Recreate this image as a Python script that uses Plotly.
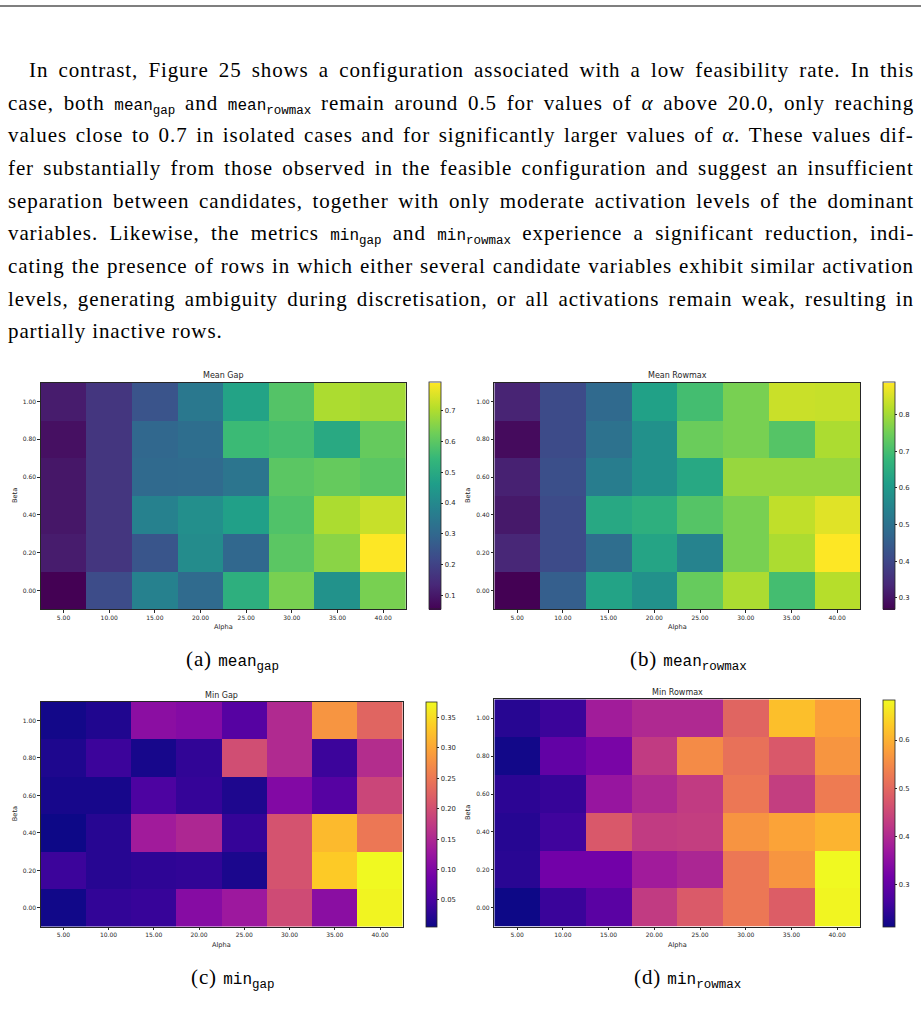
import glob, struct
import plotly.graph_objects as go

W, H = 921, 1022

# ---------------- data ----------------
alpha = [5, 10, 15, 20, 25, 30, 35, 40]
alpha_labels = ["5.00", "10.00", "15.00", "20.00", "25.00", "30.00", "35.00", "40.00"]
beta = [0.0, 0.2, 0.4, 0.6, 0.8, 1.0]
beta_labels = ["0.00", "0.20", "0.40", "0.60", "0.80", "1.00"]

# rows: beta 0.00 -> 1.00, columns: alpha 5 -> 40
mean_gap = [
    [0.054, 0.225, 0.38, 0.31, 0.52, 0.64, 0.43, 0.64],
    [0.11, 0.17, 0.25, 0.41, 0.30, 0.60, 0.66, 0.792],
    [0.10, 0.17, 0.38, 0.42, 0.47, 0.585, 0.70, 0.73],
    [0.10, 0.17, 0.305, 0.31, 0.34, 0.60, 0.615, 0.60],
    [0.085, 0.17, 0.30, 0.32, 0.555, 0.57, 0.50, 0.615],
    [0.11, 0.17, 0.246, 0.35, 0.48, 0.59, 0.70, 0.69],
]
mean_rowmax = [
    [0.268, 0.455, 0.625, 0.58, 0.74, 0.81, 0.70, 0.82],
    [0.335, 0.41, 0.49, 0.63, 0.545, 0.76, 0.81, 0.888],
    [0.31, 0.41, 0.64, 0.66, 0.72, 0.76, 0.83, 0.86],
    [0.325, 0.42, 0.53, 0.58, 0.64, 0.79, 0.79, 0.79],
    [0.285, 0.41, 0.50, 0.58, 0.745, 0.76, 0.72, 0.81],
    [0.33, 0.41, 0.48, 0.62, 0.70, 0.76, 0.838, 0.835],
]
min_gap = [
    [0.009, 0.033, 0.036, 0.108, 0.13, 0.196, 0.112, 0.372],
    [0.04, 0.025, 0.03, 0.032, 0.016, 0.206, 0.335, 0.376],
    [0.006, 0.025, 0.135, 0.15, 0.035, 0.206, 0.32, 0.25],
    [0.013, 0.013, 0.054, 0.035, 0.018, 0.104, 0.062, 0.19],
    [0.018, 0.04, 0.013, 0.032, 0.20, 0.154, 0.04, 0.158],
    [0.01, 0.02, 0.113, 0.106, 0.062, 0.154, 0.283, 0.228],
]
min_rowmax = [
    [0.214, 0.255, 0.29, 0.43, 0.48, 0.524, 0.485, 0.68],
    [0.24, 0.318, 0.318, 0.378, 0.395, 0.524, 0.566, 0.684],
    [0.237, 0.261, 0.477, 0.43, 0.435, 0.565, 0.585, 0.605],
    [0.242, 0.252, 0.365, 0.40, 0.43, 0.524, 0.435, 0.53],
    [0.219, 0.30, 0.327, 0.43, 0.552, 0.515, 0.477, 0.566],
    [0.238, 0.256, 0.379, 0.40, 0.40, 0.496, 0.618, 0.58],
]

titles = ["Mean Gap", "Mean Rowmax", "Min Gap", "Min Rowmax"]
cbar_ticks = [
    [0.1, 0.2, 0.3, 0.4, 0.5, 0.6, 0.7],
    [0.3, 0.4, 0.5, 0.6, 0.7, 0.8],
    [0.05, 0.10, 0.15, 0.20, 0.25, 0.30, 0.35],
    [0.3, 0.4, 0.5, 0.6],
]
cbar_labels = [
    ["0.1", "0.2", "0.3", "0.4", "0.5", "0.6", "0.7"],
    ["0.3", "0.4", "0.5", "0.6", "0.7", "0.8"],
    ["0.05", "0.10", "0.15", "0.20", "0.25", "0.30", "0.35"],
    ["0.3", "0.4", "0.5", "0.6"],
]
captions = [("a", "mean", "gap"), ("b", "mean", "rowmax"), ("c", "min", "gap"), ("d", "min", "rowmax")]

# ---------------- layout helpers ----------------
def X(px):
    return px / W

def Y(py):
    return 1 - py / H

SERIF = "Liberation Serif"
MONO = "Liberation Mono"
SANS = "DejaVu Sans"
FS = 21.0      # body text size
MS = 16.0      # mono size
SS = 12.5      # subscript size
LS = 0.9       # letter spacing for serif text (px)
INK = "#262626"

panels = [
    dict(box=(40.7, 406.0, 382.7, 609.3), cb=(429.0, 11.5), ty=375.0, bx=15.0, ay=627.0, cap=(232, 645)),
    dict(box=(494.3, 860.0, 382.7, 609.3), cb=(882.7, 11.5), ty=375.0, bx=468.0, ay=627.0, cap=(688, 645)),
    dict(box=(40.7, 402.7, 701.7, 926.7), cb=(425.7, 11.0), ty=695.0, bx=15.0, ay=945.0, cap=(233, 963)),
    dict(box=(494.3, 860.0, 699.3, 926.7), cb=(882.7, 11.5), ty=692.3, bx=468.0, ay=945.0, cap=(687, 963)),
]
datasets = [mean_gap, mean_rowmax, min_gap, min_rowmax]
scales = ["Viridis", "Viridis", "Plasma", "Plasma"]

fig = go.Figure()
annotations = []
layout_axes = {}

def mono(t, size):
    return f'<span style="font-family:{MONO};font-size:{size}px;letter-spacing:0px">{t}</span>'

def msub(t, size):
    # subscript drawn by shifting the baseline of its own span
    return (f'<span style="font-family:{MONO};font-size:{size}px;letter-spacing:0px;'
            f'baseline-shift:-4px">{t}</span>')

for i, (p, z, cs) in enumerate(zip(panels, datasets, scales)):
    n = i + 1
    x0, x1, y0, y1 = p["box"]
    flat = [v for row in z for v in row]
    zmin, zmax = min(flat), max(flat)
    cbx, cbw = p["cb"]
    fig.add_trace(go.Heatmap(
        x=alpha, y=beta, z=z, colorscale=cs, zmin=zmin, zmax=zmax,
        xaxis=f"x{n}", yaxis=f"y{n}", hoverinfo="skip",
        colorbar=dict(
            x=X(cbx), xanchor="left", y=Y((y0 + y1) / 2), yanchor="middle",
            len=y1 - y0, lenmode="pixels", thickness=cbw, thicknessmode="pixels",
            xpad=0, ypad=0, outlinewidth=0.8, outlinecolor=INK,
            ticks="outside", ticklen=2.5, tickwidth=0.8, tickcolor=INK,
            tickvals=cbar_ticks[i], ticktext=cbar_labels[i],
            tickfont=dict(family=SANS, size=6.8, color=INK),
        ),
    ))
    common = dict(showline=True, mirror=True, linecolor=INK, linewidth=0.9,
                  ticks="outside", ticklen=2.5, tickwidth=0.8, tickcolor=INK,
                  showgrid=False, zeroline=False, fixedrange=True,
                  tickfont=dict(family=SANS, size=6, color=INK))
    layout_axes[f"xaxis{n}"] = dict(domain=[X(x0), X(x1)], range=[2.5, 42.5], anchor=f"y{n}",
                                    tickvals=alpha, ticktext=alpha_labels, **common)
    layout_axes[f"yaxis{n}"] = dict(domain=[Y(y1), Y(y0)], range=[-0.1, 1.1], anchor=f"x{n}",
                                    tickvals=beta, ticktext=beta_labels, **common)
    annotations.append(dict(text=titles[i], x=X((x0 + x1) / 2), y=Y(p["ty"]), xref="paper", yref="paper",
                            showarrow=False, xanchor="center", yanchor="middle",
                            font=dict(family=SANS, size=8, color=INK)))
    annotations.append(dict(text="Alpha", x=X((x0 + x1) / 2), y=Y(p["ay"]), xref="paper", yref="paper",
                            showarrow=False, xanchor="center", yanchor="middle",
                            font=dict(family=SANS, size=6.6, color=INK)))
    annotations.append(dict(text="Beta", x=X(p["bx"]), y=Y((y0 + y1) / 2), xref="paper", yref="paper",
                            showarrow=False, xanchor="center", yanchor="middle", textangle=-90,
                            font=dict(family=SANS, size=6.6, color=INK)))
    letter, word, sub = captions[i]
    cap = f'<span style="letter-spacing:{LS}px">({letter}) {mono(word, MS)}{msub(sub, SS)}</span>'
    cx, cy = p["cap"]
    annotations.append(dict(text=cap, x=X(cx), y=Y(cy), xref="paper", yref="paper", showarrow=False,
                            xanchor="center", yanchor="top", font=dict(family=SERIF, size=FS, color="black")))

# ---------------- paragraph text ----------------
def find_font(name):
    for base in ["/usr/share/fonts", "/usr/local/share/fonts"]:
        hits = glob.glob(f"{base}/**/{name}", recursive=True)
        if hits:
            return hits[0]
    return None

def load_width_fn(path):
    data = open(path, "rb").read()
    num = struct.unpack(">H", data[4:6])[0]
    tables = {}
    for k in range(num):
        tag, _, off, ln = struct.unpack(">4sIII", data[12 + 16 * k:28 + 16 * k])
        tables[tag.decode("latin-1")] = off
    upem = struct.unpack(">H", data[tables["head"] + 18:tables["head"] + 20])[0]
    nhm = struct.unpack(">H", data[tables["hhea"] + 34:tables["hhea"] + 36])[0]
    hm = tables["hmtx"]
    adv = [struct.unpack(">H", data[hm + 4 * k:hm + 4 * k + 2])[0] for k in range(nhm)]
    cm = tables["cmap"]
    nsub = struct.unpack(">H", data[cm + 2:cm + 4])[0]
    sub = None
    for k in range(nsub):
        pid, eid, off = struct.unpack(">HHI", data[cm + 4 + 8 * k:cm + 12 + 8 * k])
        fmt = struct.unpack(">H", data[cm + off:cm + off + 2])[0]
        if fmt == 4 and pid == 3 and eid == 1:
            sub = cm + off
    segx2 = struct.unpack(">H", data[sub + 6:sub + 8])[0]
    segs = segx2 // 2
    ends = struct.unpack(f">{segs}H", data[sub + 14:sub + 14 + segx2])
    starts = struct.unpack(f">{segs}H", data[sub + 16 + segx2:sub + 16 + 2 * segx2])
    deltas = struct.unpack(f">{segs}h", data[sub + 16 + 2 * segx2:sub + 16 + 3 * segx2])
    rpos = sub + 16 + 3 * segx2
    roffs = struct.unpack(f">{segs}H", data[rpos:rpos + segx2])

    def gid(c):
        for k in range(segs):
            if starts[k] <= c <= ends[k]:
                if roffs[k] == 0:
                    return (c + deltas[k]) & 0xFFFF
                addr = rpos + 2 * k + roffs[k] + 2 * (c - starts[k])
                g = struct.unpack(">H", data[addr:addr + 2])[0]
                return (g + deltas[k]) & 0xFFFF if g else 0
        return 0

    def width(s, size):
        return sum(adv[min(gid(ord(ch)), nhm - 1)] for ch in s) / upem * size
    return width

try:
    serif_w = load_width_fn(find_font("LiberationSerif-Regular.ttf"))
except Exception:
    serif_w = lambda s, size: len(s) * 0.44 * size

def mono_w(s, size):
    return len(s) * 0.6 * size

lines = [
    [("S", "In contrast, Figure 25 shows a configuration associated with a low feasibility rate. In this")],
    [("S", "case, both "), ("T", "mean"), ("B", "gap"), ("S", " and "), ("T", "mean"), ("B", "rowmax"),
     ("S", " remain around 0.5 for values of "), ("I", "α"), ("S", " above 20.0, only reaching")],
    [("S", "values close to 0.7 in isolated cases and for significantly larger values of "), ("I", "α"),
     ("S", ". These values dif-")],
    [("S", "fer substantially from those observed in the feasible configuration and suggest an insufficient")],
    [("S", "separation between candidates, together with only moderate activation levels of the dominant")],
    [("S", "variables. Likewise, the metrics "), ("T", "min"), ("B", "gap"), ("S", " and "), ("T", "min"),
     ("B", "rowmax"), ("S", " experience a significant reduction, indi-")],
    [("S", "cating the presence of rows in which either several candidate variables exhibit similar activation")],
    [("S", "levels, generating ambiguity during discretisation, or all activations remain weak, resulting in")],
    [("S", "partially inactive rows.")],
]
line_x0 = [28, 7, 7, 7, 7, 7, 7, 7, 7]
justify = [True] * 8 + [False]
RIGHT = 913.0
BASE0, STEP = 75.3, 32.7

for k, segs in enumerate(lines):
    natural = 0.0
    nspaces = 0
    html = ""
    for kind, t in segs:
        if kind == "S":
            natural += serif_w(t, FS) + LS * len(t)
            nspaces += t.count(" ")
            html += t
        elif kind == "I":
            natural += serif_w(t, FS) + LS * len(t)
            html += f"<i>{t}</i>"
        elif kind == "T":
            natural += mono_w(t, MS)
            html += mono(t, MS)
        else:
            natural += mono_w(t, SS)
            html += msub(t, SS)
    ws = 0.0
    if justify[k] and nspaces:
        ws = (RIGHT - line_x0[k] - natural) / nspaces
    html = f'<span style="letter-spacing:{LS}px;word-spacing:{ws:.2f}px">{html}</span>'
    baseline = BASE0 + STEP * k
    annotations.append(dict(text=html, x=X(line_x0[k] - 1), y=Y(baseline - 19.5), xref="paper", yref="paper",
                            showarrow=False, xanchor="left", yanchor="top", align="left",
                            font=dict(family=SERIF, size=FS, color="black")))

fig.update_layout(
    width=W, height=H, margin=dict(l=0, r=0, t=0, b=0),
    paper_bgcolor="white", plot_bgcolor="white", showlegend=False,
    font=dict(family=SANS, color="black"),
    annotations=annotations,
    shapes=[dict(type="line", xref="paper", yref="paper", x0=0, x1=1, y0=Y(6), y1=Y(6),
                 line=dict(color="black", width=1.2))],
    **layout_axes,
)

fig.write_html("out.html")
